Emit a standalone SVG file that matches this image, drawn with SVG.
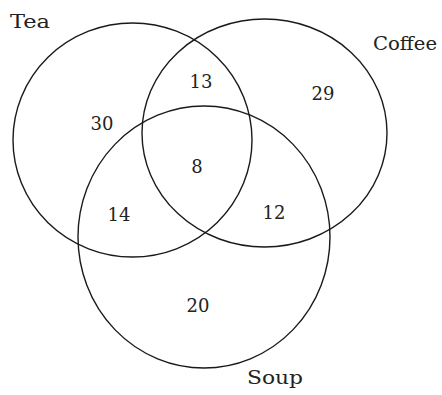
<svg xmlns="http://www.w3.org/2000/svg" width="442" height="395" viewBox="0 0 442 395">
<style>
.c{fill:none;stroke:#1a1a1a;stroke-width:1.4}
.t{font-family:"DejaVu Serif","Liberation Serif",serif;font-size:18px;fill:#222}
.n{text-anchor:middle}
</style>
<rect width="442" height="395" fill="#fff"/>
<g id="tea"><ellipse class="c" cx="132.5" cy="140" rx="119.5" ry="117"/><text class="t" x="10" y="28" textLength="40" lengthAdjust="spacingAndGlyphs">Tea</text></g>
<g id="coffee"><ellipse class="c" cx="264.5" cy="133" rx="122.5" ry="114"/><text class="t" x="373" y="50" textLength="64" lengthAdjust="spacingAndGlyphs">Coffee</text></g>
<g id="soup"><ellipse class="c" cx="204" cy="237" rx="126" ry="131"/><text class="t" x="247" y="384" textLength="56" lengthAdjust="spacingAndGlyphs">Soup</text></g>
<g id="counts">
<text class="t n" x="201" y="88">13</text>
<text class="t n" x="323" y="100">29</text>
<text class="t n" x="102" y="130">30</text>
<text class="t n" x="197" y="173">8</text>
<text class="t n" x="119" y="221">14</text>
<text class="t n" x="274" y="219">12</text>
<text class="t n" x="198" y="312">20</text>
</g>
</svg>
